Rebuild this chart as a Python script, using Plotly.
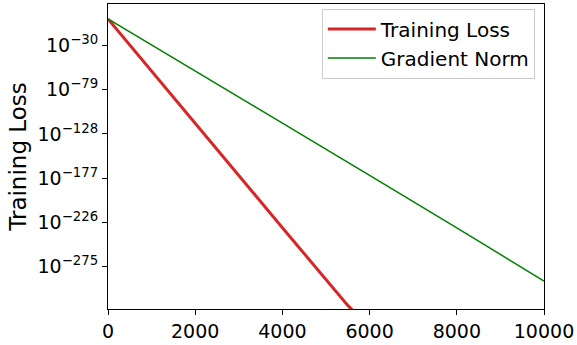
import plotly.graph_objects as go

# Optimisation trace: training loss and gradient norm against step (log scale)
loss_steps = [0, 1000, 2000, 3000, 4000, 5000, 5500, 5600]
loss_values = [3e-1, 1e-58, 1e-116, 1e-174, 1e-232, 1e-290, 1e-318, 1e-323]

grad_steps = [0, 2000, 4000, 6000, 8000, 10000]
grad_values = [3e-1, 1e-58, 1e-116, 1e-174, 1e-232, 1e-291]

y_tick_exponents = [-30, -79, -128, -177, -226, -275]
x_tick_values = [0, 2000, 4000, 6000, 8000, 10000]

FONT = "DejaVu Sans, sans-serif"

fig = go.Figure()
fig.add_trace(go.Scatter(
    x=loss_steps, y=loss_values, mode="lines", name="Training Loss",
    line=dict(color="#d62728", width=3),
))
fig.add_trace(go.Scatter(
    x=grad_steps, y=grad_values, mode="lines", name="Gradient Norm",
    line=dict(color="green", width=1.5),
))

fig.update_layout(
    width=577, height=345,
    margin=dict(l=108, r=32, t=3, b=33),
    paper_bgcolor="white", plot_bgcolor="white",
    font=dict(family=FONT, size=19, color="black"),
    showlegend=True,
    legend=dict(
        x=0.979, y=0.985, xanchor="right", yanchor="top",
        bgcolor="rgba(255,255,255,0.8)", bordercolor="#cccccc", borderwidth=1,
        font=dict(size=20), itemwidth=48, tracegroupgap=0,
    ),
)

fig.update_xaxes(
    range=[0, 10000], tickvals=x_tick_values,
    ticktext=[str(v) for v in x_tick_values],
    showgrid=False, zeroline=False,
    showline=True, linecolor="black", linewidth=1, mirror=True,
    ticks="outside", ticklen=5, tickcolor="black",
)
fig.update_yaxes(
    type="log", range=[-322, 16],
    tickvals=[10.0 ** e for e in y_tick_exponents],
    ticktext=["10<sup>\u2212%d</sup>" % -e for e in y_tick_exponents],
    title=dict(text="Training Loss", standoff=4),
    showgrid=False, zeroline=False,
    showline=True, linecolor="black", linewidth=1, mirror=True,
    ticks="outside", ticklen=5, tickcolor="black",
)

fig.write_html("out.html")
